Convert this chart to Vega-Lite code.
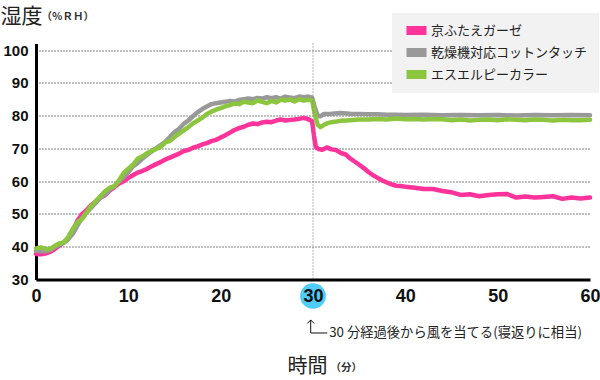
{
  "$schema": "https://vega.github.io/schema/vega-lite/v6.json",
  "width": 554,
  "height": 236,
  "autosize": {"type": "none"},
  "padding": {"left": 36, "top": 43.5, "right": 10, "bottom": 100.5},
  "background": "white",
  "config": {"view": {"stroke": null}, "font": "Liberation Sans"},
  "datasets": {
    "one": [{}],
    "hum": [
      {"t":0,"s":"京ふたえガーゼ","v":37.8},{"t":0.5,"s":"京ふたえガーゼ","v":37.7},{"t":1,"s":"京ふたえガーゼ","v":37.9},{"t":1.5,"s":"京ふたえガーゼ","v":38.4},{"t":2,"s":"京ふたえガーゼ","v":39.2},{"t":2.5,"s":"京ふたえガーゼ","v":40.3},{"t":3,"s":"京ふたえガーゼ","v":41.3},{"t":3.5,"s":"京ふたえガーゼ","v":42.5},{"t":4,"s":"京ふたえガーゼ","v":45.0},{"t":4.5,"s":"京ふたえガーゼ","v":48.0},{"t":5,"s":"京ふたえガーゼ","v":50.0},{"t":5.5,"s":"京ふたえガーゼ","v":51.2},{"t":6,"s":"京ふたえガーゼ","v":52.8},{"t":6.5,"s":"京ふたえガーゼ","v":53.8},{"t":7,"s":"京ふたえガーゼ","v":55.0},{"t":7.5,"s":"京ふたえガーゼ","v":55.8},{"t":8,"s":"京ふたえガーゼ","v":57.2},{"t":8.5,"s":"京ふたえガーゼ","v":58.2},{"t":9,"s":"京ふたえガーゼ","v":59.3},{"t":9.5,"s":"京ふたえガーゼ","v":60.0},{"t":10,"s":"京ふたえガーゼ","v":61.0},{"t":10.5,"s":"京ふたえガーゼ","v":61.8},{"t":11,"s":"京ふたえガーゼ","v":62.6},{"t":11.5,"s":"京ふたえガーゼ","v":63.1},{"t":12,"s":"京ふたえガーゼ","v":63.7},{"t":12.5,"s":"京ふたえガーゼ","v":64.5},{"t":13,"s":"京ふたえガーゼ","v":65.2},{"t":13.5,"s":"京ふたえガーゼ","v":65.8},{"t":14,"s":"京ふたえガーゼ","v":66.6},{"t":14.5,"s":"京ふたえガーゼ","v":67.2},{"t":15,"s":"京ふたえガーゼ","v":67.8},{"t":15.5,"s":"京ふたえガーゼ","v":68.4},{"t":16,"s":"京ふたえガーゼ","v":69.2},{"t":16.5,"s":"京ふたえガーゼ","v":69.5},{"t":17,"s":"京ふたえガーゼ","v":70.2},{"t":17.5,"s":"京ふたえガーゼ","v":70.6},{"t":18,"s":"京ふたえガーゼ","v":71.2},{"t":18.5,"s":"京ふたえガーゼ","v":71.6},{"t":19,"s":"京ふたえガーゼ","v":72.2},{"t":19.5,"s":"京ふたえガーゼ","v":72.6},{"t":20,"s":"京ふたえガーゼ","v":73.3},{"t":20.5,"s":"京ふたえガーゼ","v":74.0},{"t":21,"s":"京ふたえガーゼ","v":74.8},{"t":21.5,"s":"京ふたえガーゼ","v":75.6},{"t":22,"s":"京ふたえガーゼ","v":76.2},{"t":22.5,"s":"京ふたえガーゼ","v":76.6},{"t":23,"s":"京ふたえガーゼ","v":77.2},{"t":23.5,"s":"京ふたえガーゼ","v":77.6},{"t":24,"s":"京ふたえガーゼ","v":77.4},{"t":24.5,"s":"京ふたえガーゼ","v":77.9},{"t":25,"s":"京ふたえガーゼ","v":78.1},{"t":25.5,"s":"京ふたえガーゼ","v":78.0},{"t":26,"s":"京ふたえガーゼ","v":78.5},{"t":26.5,"s":"京ふたえガーゼ","v":78.8},{"t":27,"s":"京ふたえガーゼ","v":78.5},{"t":27.5,"s":"京ふたえガーゼ","v":78.7},{"t":28,"s":"京ふたえガーゼ","v":78.8},{"t":28.5,"s":"京ふたえガーゼ","v":79.0},{"t":29,"s":"京ふたえガーゼ","v":79.3},{"t":29.5,"s":"京ふたえガーゼ","v":78.9},{"t":29.9,"s":"京ふたえガーゼ","v":78.3},{"t":30.1,"s":"京ふたえガーゼ","v":74.0},{"t":30.3,"s":"京ふたえガーゼ","v":70.4},{"t":30.6,"s":"京ふたえガーゼ","v":69.8},{"t":31,"s":"京ふたえガーゼ","v":69.6},{"t":31.5,"s":"京ふたえガーゼ","v":70.3},{"t":32,"s":"京ふたえガーゼ","v":69.7},{"t":32.5,"s":"京ふたえガーゼ","v":69.5},{"t":33,"s":"京ふたえガーゼ","v":68.6},{"t":33.5,"s":"京ふたえガーゼ","v":68.2},{"t":34,"s":"京ふたえガーゼ","v":67.0},{"t":34.5,"s":"京ふたえガーゼ","v":66.0},{"t":35,"s":"京ふたえガーゼ","v":65.0},{"t":35.5,"s":"京ふたえガーゼ","v":64.0},{"t":36,"s":"京ふたえガーゼ","v":62.8},{"t":36.5,"s":"京ふたえガーゼ","v":61.8},{"t":37,"s":"京ふたえガーゼ","v":61.0},{"t":37.5,"s":"京ふたえガーゼ","v":60.2},{"t":38,"s":"京ふたえガーゼ","v":59.6},{"t":38.5,"s":"京ふたえガーゼ","v":59.0},{"t":39,"s":"京ふたえガーゼ","v":58.6},{"t":39.5,"s":"京ふたえガーゼ","v":58.5},{"t":40,"s":"京ふたえガーゼ","v":58.3},{"t":41,"s":"京ふたえガーゼ","v":58.0},{"t":42,"s":"京ふたえガーゼ","v":57.6},{"t":43,"s":"京ふたえガーゼ","v":57.6},{"t":44,"s":"京ふたえガーゼ","v":57.0},{"t":45,"s":"京ふたえガーゼ","v":56.6},{"t":46,"s":"京ふたえガーゼ","v":55.8},{"t":47,"s":"京ふたえガーゼ","v":56.0},{"t":48,"s":"京ふたえガーゼ","v":55.4},{"t":49,"s":"京ふたえガーゼ","v":55.8},{"t":50,"s":"京ふたえガーゼ","v":56.0},{"t":51,"s":"京ふたえガーゼ","v":56.1},{"t":52,"s":"京ふたえガーゼ","v":55.0},{"t":53,"s":"京ふたえガーゼ","v":55.3},{"t":54,"s":"京ふたえガーゼ","v":55.0},{"t":55,"s":"京ふたえガーゼ","v":55.2},{"t":56,"s":"京ふたえガーゼ","v":55.4},{"t":57,"s":"京ふたえガーゼ","v":54.6},{"t":58,"s":"京ふたえガーゼ","v":55.0},{"t":59,"s":"京ふたえガーゼ","v":54.7},{"t":60,"s":"京ふたえガーゼ","v":55.0},

      {"t":0,"s":"乾燥機対応コットンタッチ","v":38.8},{"t":0.5,"s":"乾燥機対応コットンタッチ","v":38.6},{"t":1,"s":"乾燥機対応コットンタッチ","v":38.6},{"t":1.5,"s":"乾燥機対応コットンタッチ","v":39.0},{"t":2,"s":"乾燥機対応コットンタッチ","v":39.8},{"t":2.5,"s":"乾燥機対応コットンタッチ","v":40.6},{"t":3,"s":"乾燥機対応コットンタッチ","v":41.2},{"t":3.5,"s":"乾燥機対応コットンタッチ","v":42.3},{"t":4,"s":"乾燥機対応コットンタッチ","v":44.0},{"t":4.5,"s":"乾燥機対応コットンタッチ","v":46.5},{"t":5,"s":"乾燥機対応コットンタッチ","v":48.8},{"t":5.5,"s":"乾燥機対応コットンタッチ","v":50.5},{"t":6,"s":"乾燥機対応コットンタッチ","v":52.0},{"t":6.5,"s":"乾燥機対応コットンタッチ","v":53.5},{"t":7,"s":"乾燥機対応コットンタッチ","v":55.0},{"t":7.5,"s":"乾燥機対応コットンタッチ","v":56.0},{"t":8,"s":"乾燥機対応コットンタッチ","v":57.5},{"t":8.5,"s":"乾燥機対応コットンタッチ","v":58.5},{"t":9,"s":"乾燥機対応コットンタッチ","v":60.0},{"t":9.5,"s":"乾燥機対応コットンタッチ","v":61.2},{"t":10,"s":"乾燥機対応コットンタッチ","v":62.8},{"t":10.5,"s":"乾燥機対応コットンタッチ","v":64.5},{"t":11,"s":"乾燥機対応コットンタッチ","v":65.5},{"t":11.5,"s":"乾燥機対応コットンタッチ","v":66.8},{"t":12,"s":"乾燥機対応コットンタッチ","v":68.0},{"t":12.5,"s":"乾燥機対応コットンタッチ","v":69.0},{"t":13,"s":"乾燥機対応コットンタッチ","v":70.0},{"t":13.5,"s":"乾燥機対応コットンタッチ","v":71.0},{"t":14,"s":"乾燥機対応コットンタッチ","v":72.0},{"t":14.5,"s":"乾燥機対応コットンタッチ","v":73.5},{"t":15,"s":"乾燥機対応コットンタッチ","v":75.0},{"t":15.5,"s":"乾燥機対応コットンタッチ","v":76.0},{"t":16,"s":"乾燥機対応コットンタッチ","v":77.5},{"t":16.5,"s":"乾燥機対応コットンタッチ","v":78.5},{"t":17,"s":"乾燥機対応コットンタッチ","v":79.8},{"t":17.5,"s":"乾燥機対応コットンタッチ","v":81.0},{"t":18,"s":"乾燥機対応コットンタッチ","v":82.0},{"t":18.5,"s":"乾燥機対応コットンタッチ","v":82.8},{"t":19,"s":"乾燥機対応コットンタッチ","v":83.5},{"t":19.5,"s":"乾燥機対応コットンタッチ","v":83.8},{"t":20,"s":"乾燥機対応コットンタッチ","v":84.0},{"t":20.5,"s":"乾燥機対応コットンタッチ","v":84.2},{"t":21,"s":"乾燥機対応コットンタッチ","v":84.5},{"t":21.5,"s":"乾燥機対応コットンタッチ","v":84.3},{"t":22,"s":"乾燥機対応コットンタッチ","v":84.8},{"t":22.5,"s":"乾燥機対応コットンタッチ","v":85.0},{"t":23,"s":"乾燥機対応コットンタッチ","v":85.2},{"t":23.5,"s":"乾燥機対応コットンタッチ","v":85.0},{"t":24,"s":"乾燥機対応コットンタッチ","v":85.4},{"t":24.5,"s":"乾燥機対応コットンタッチ","v":85.2},{"t":25,"s":"乾燥機対応コットンタッチ","v":85.6},{"t":25.5,"s":"乾燥機対応コットンタッチ","v":85.3},{"t":26,"s":"乾燥機対応コットンタッチ","v":85.6},{"t":26.5,"s":"乾燥機対応コットンタッチ","v":85.2},{"t":27,"s":"乾燥機対応コットンタッチ","v":85.8},{"t":27.5,"s":"乾燥機対応コットンタッチ","v":85.5},{"t":28,"s":"乾燥機対応コットンタッチ","v":85.3},{"t":28.5,"s":"乾燥機対応コットンタッチ","v":85.8},{"t":29,"s":"乾燥機対応コットンタッチ","v":85.6},{"t":29.5,"s":"乾燥機対応コットンタッチ","v":85.8},{"t":29.9,"s":"乾燥機対応コットンタッチ","v":85.5},{"t":30.2,"s":"乾燥機対応コットンタッチ","v":82.5},{"t":30.5,"s":"乾燥機対応コットンタッチ","v":80.0},{"t":30.8,"s":"乾燥機対応コットンタッチ","v":79.8},{"t":31.2,"s":"乾燥機対応コットンタッチ","v":80.5},{"t":32,"s":"乾燥機対応コットンタッチ","v":80.6},{"t":33,"s":"乾燥機対応コットンタッチ","v":80.8},{"t":34,"s":"乾燥機対応コットンタッチ","v":80.6},{"t":35,"s":"乾燥機対応コットンタッチ","v":80.5},{"t":36,"s":"乾燥機対応コットンタッチ","v":80.4},{"t":37,"s":"乾燥機対応コットンタッチ","v":80.4},{"t":38,"s":"乾燥機対応コットンタッチ","v":80.3},{"t":39,"s":"乾燥機対応コットンタッチ","v":80.3},{"t":40,"s":"乾燥機対応コットンタッチ","v":80.2},{"t":42,"s":"乾燥機対応コットンタッチ","v":80.3},{"t":44,"s":"乾燥機対応コットンタッチ","v":80.1},{"t":46,"s":"乾燥機対応コットンタッチ","v":80.2},{"t":48,"s":"乾燥機対応コットンタッチ","v":80.1},{"t":50,"s":"乾燥機対応コットンタッチ","v":80.2},{"t":52,"s":"乾燥機対応コットンタッチ","v":80.0},{"t":54,"s":"乾燥機対応コットンタッチ","v":80.2},{"t":56,"s":"乾燥機対応コットンタッチ","v":80.1},{"t":58,"s":"乾燥機対応コットンタッチ","v":80.2},{"t":60,"s":"乾燥機対応コットンタッチ","v":80.1},

      {"t":0,"s":"エスエルピーカラー","v":39.5},{"t":0.5,"s":"エスエルピーカラー","v":39.8},{"t":1,"s":"エスエルピーカラー","v":39.4},{"t":1.5,"s":"エスエルピーカラー","v":39.2},{"t":2,"s":"エスエルピーカラー","v":40.2},{"t":2.5,"s":"エスエルピーカラー","v":41.0},{"t":3,"s":"エスエルピーカラー","v":41.3},{"t":3.5,"s":"エスエルピーカラー","v":43.0},{"t":4,"s":"エスエルピーカラー","v":45.5},{"t":4.5,"s":"エスエルピーカラー","v":47.5},{"t":5,"s":"エスエルピーカラー","v":48.5},{"t":5.5,"s":"エスエルピーカラー","v":50.5},{"t":6,"s":"エスエルピーカラー","v":52.5},{"t":6.5,"s":"エスエルピーカラー","v":54.0},{"t":7,"s":"エスエルピーカラー","v":55.5},{"t":7.5,"s":"エスエルピーカラー","v":57.0},{"t":8,"s":"エスエルピーカラー","v":58.0},{"t":8.5,"s":"エスエルピーカラー","v":58.5},{"t":9,"s":"エスエルピーカラー","v":60.3},{"t":9.5,"s":"エスエルピーカラー","v":62.5},{"t":10,"s":"エスエルピーカラー","v":63.8},{"t":10.5,"s":"エスエルピーカラー","v":65.0},{"t":11,"s":"エスエルピーカラー","v":66.8},{"t":11.5,"s":"エスエルピーカラー","v":67.5},{"t":12,"s":"エスエルピーカラー","v":68.5},{"t":12.5,"s":"エスエルピーカラー","v":69.2},{"t":13,"s":"エスエルピーカラー","v":69.8},{"t":13.5,"s":"エスエルピーカラー","v":70.5},{"t":14,"s":"エスエルピーカラー","v":71.8},{"t":14.5,"s":"エスエルピーカラー","v":72.3},{"t":15,"s":"エスエルピーカラー","v":73.5},{"t":15.5,"s":"エスエルピーカラー","v":74.5},{"t":16,"s":"エスエルピーカラー","v":75.5},{"t":16.5,"s":"エスエルピーカラー","v":76.5},{"t":17,"s":"エスエルピーカラー","v":77.6},{"t":17.5,"s":"エスエルピーカラー","v":78.5},{"t":18,"s":"エスエルピーカラー","v":79.3},{"t":18.5,"s":"エスエルピーカラー","v":80.5},{"t":19,"s":"エスエルピーカラー","v":81.2},{"t":19.5,"s":"エスエルピーカラー","v":81.8},{"t":20,"s":"エスエルピーカラー","v":82.3},{"t":20.5,"s":"エスエルピーカラー","v":82.8},{"t":21,"s":"エスエルピーカラー","v":83.2},{"t":21.5,"s":"エスエルピーカラー","v":83.7},{"t":22,"s":"エスエルピーカラー","v":83.5},{"t":22.5,"s":"エスエルピーカラー","v":84.2},{"t":23,"s":"エスエルピーカラー","v":84.0},{"t":23.5,"s":"エスエルピーカラー","v":83.8},{"t":24,"s":"エスエルピーカラー","v":84.6},{"t":24.5,"s":"エスエルピーカラー","v":84.2},{"t":25,"s":"エスエルピーカラー","v":83.8},{"t":25.5,"s":"エスエルピーカラー","v":84.5},{"t":26,"s":"エスエルピーカラー","v":84.0},{"t":26.5,"s":"エスエルピーカラー","v":84.8},{"t":27,"s":"エスエルピーカラー","v":84.6},{"t":27.5,"s":"エスエルピーカラー","v":84.9},{"t":28,"s":"エスエルピーカラー","v":84.3},{"t":28.5,"s":"エスエルピーカラー","v":85.0},{"t":29,"s":"エスエルピーカラー","v":84.6},{"t":29.5,"s":"エスエルピーカラー","v":84.8},{"t":29.9,"s":"エスエルピーカラー","v":84.6},{"t":30.2,"s":"エスエルピーカラー","v":80.5},{"t":30.5,"s":"エスエルピーカラー","v":77.2},{"t":30.8,"s":"エスエルピーカラー","v":76.5},{"t":31.2,"s":"エスエルピーカラー","v":77.2},{"t":31.6,"s":"エスエルピーカラー","v":77.7},{"t":32,"s":"エスエルピーカラー","v":78.0},{"t":33,"s":"エスエルピーカラー","v":78.4},{"t":34,"s":"エスエルピーカラー","v":78.6},{"t":35,"s":"エスエルピーカラー","v":78.8},{"t":36,"s":"エスエルピーカラー","v":78.8},{"t":37,"s":"エスエルピーカラー","v":79.0},{"t":38,"s":"エスエルピーカラー","v":78.8},{"t":39,"s":"エスエルピーカラー","v":79.1},{"t":40,"s":"エスエルピーカラー","v":78.9},{"t":41,"s":"エスエルピーカラー","v":79.0},{"t":42,"s":"エスエルピーカラー","v":78.8},{"t":43,"s":"エスエルピーカラー","v":79.0},{"t":44,"s":"エスエルピーカラー","v":78.9},{"t":45,"s":"エスエルピーカラー","v":78.6},{"t":46,"s":"エスエルピーカラー","v":78.8},{"t":47,"s":"エスエルピーカラー","v":78.5},{"t":48,"s":"エスエルピーカラー","v":78.7},{"t":49,"s":"エスエルピーカラー","v":78.8},{"t":50,"s":"エスエルピーカラー","v":78.6},{"t":51,"s":"エスエルピーカラー","v":78.9},{"t":52,"s":"エスエルピーカラー","v":78.7},{"t":53,"s":"エスエルピーカラー","v":78.6},{"t":54,"s":"エスエルピーカラー","v":78.8},{"t":55,"s":"エスエルピーカラー","v":78.7},{"t":56,"s":"エスエルピーカラー","v":78.5},{"t":57,"s":"エスエルピーカラー","v":78.7},{"t":58,"s":"エスエルピーカラー","v":78.6},{"t":59,"s":"エスエルピーカラー","v":78.6},{"t":60,"s":"エスエルピーカラー","v":78.7}
    ]
  },
  "layer": [
    {
      "data": {"name": "hum"},
      "mark": {"type": "line", "strokeWidth": 4.5, "strokeCap": "round", "strokeJoin": "round"},
      "encoding": {
        "x": {
          "field": "t", "type": "quantitative",
          "scale": {"domain": [0, 60], "nice": false, "zero": false},
          "axis": {
            "values": [0, 10, 20, 30, 40, 50, 60], "tickCount": 7, "grid": false, "ticks": false,
            "domainColor": "#000000", "domainWidth": 3,
            "labelFont": "Liberation Sans", "labelFontWeight": "bold", "labelFontSize": 18, "labelColor": "#111111",
            "labelPadding": 8, "labelFlush": false, "labelBaseline": "top", "labelOverlap": false, "zindex": 1,
            "title": "時間", "titleFont": "Noto Sans CJK JP", "titleFontSize": 20, "titleFontWeight": "normal", "titleColor": "#222222",
            "titleAngle": 0, "titleAlign": "left", "titleBaseline": "middle", "titleX": 251, "titleY": 87
          }
        },
        "y": {
          "field": "v", "type": "quantitative",
          "scale": {"domain": [30, 102], "nice": false, "zero": false},
          "axis": {
            "values": [30, 40, 50, 60, 70, 80, 90, 100], "tickCount": 8, "grid": true, "gridColor": "#000000", "gridDash": [1, 2], "gridWidth": 1,
            "ticks": false, "domainColor": "#000000", "domainWidth": 3,
            "labelFont": "Liberation Sans", "labelFontWeight": "bold", "labelFontSize": 15, "labelColor": "#111111",
            "labelPadding": 8, "labelOverlap": false,
            "title": "湿度", "titleFont": "Noto Sans CJK JP", "titleFontSize": 21, "titleFontWeight": "normal", "titleColor": "#222222",
            "titleAngle": 0, "titleAlign": "left", "titleBaseline": "middle", "titleX": -36, "titleY": -27.5, "zindex": 0
          }
        },
        "color": {
          "field": "s", "type": "nominal",
          "scale": {"domain": ["京ふたえガーゼ", "乾燥機対応コットンタッチ", "エスエルピーカラー"], "range": ["#ff3399", "#999999", "#8cc63f"]},
          "legend": {
            "orient": "none", "legendX": 356, "legendY": -30.5, "title": null,
            "fillColor": "#f2f2f2", "padding": 11,
            "symbolType": "M-2,-0.9L2,-0.9L2,0.9L-2,0.9Z", "symbolSize": 100, "symbolStrokeWidth": 0, "symbolOffset": 7,
            "labelFont": "Noto Sans CJK JP", "labelFontSize": 13, "labelColor": "#222222", "labelOffset": 8,
            "rowPadding": 8,
            "encode": {"symbols": {"update": {"fill": {"scale": "color", "field": "value"}, "fillOpacity": {"value": 1}, "stroke": {"value": "transparent"}, "strokeWidth": {"value": 0}}}}
          }
        }
      }
    },
    {
      "data": {"name": "one"},
      "mark": {"type": "rule", "color": "#777777", "strokeDash": [1, 2], "strokeWidth": 1},
      "encoding": {"x": {"datum": 30, "type": "quantitative"}}
    },
    {
      "data": {"name": "one"},
      "mark": {"type": "point", "shape": "circle", "filled": true, "size": 660, "color": "#4fcdf7", "opacity": 1},
      "encoding": {"x": {"datum": 30, "type": "quantitative"}, "y": {"datum": 24.97, "type": "quantitative"}}
    },
    {
      "data": {"name": "one"},
      "mark": {"type": "rule", "color": "#111111", "strokeWidth": 1},
      "encoding": {"x": {"datum": 29.75, "type": "quantitative"}, "y": {"datum": 17.65, "type": "quantitative"}, "y2": {"datum": 13.68}}
    },
    {
      "data": {"name": "one"},
      "mark": {"type": "rule", "color": "#111111", "strokeWidth": 1},
      "encoding": {"x": {"datum": 29.75, "type": "quantitative"}, "x2": {"datum": 31.55}, "y": {"datum": 13.68, "type": "quantitative"}}
    },
    {
      "data": {"name": "one"},
      "mark": {"type": "point", "shape": "M-1,1L0,0L1,1", "filled": false, "size": 49, "stroke": "#111111", "strokeWidth": 1, "opacity": 1},
      "encoding": {"x": {"datum": 29.75, "type": "quantitative"}, "y": {"datum": 17.65, "type": "quantitative"}}
    },
    {
      "data": {"name": "one"},
      "mark": {"type": "text", "align": "left", "baseline": "middle", "font": "Noto Sans CJK JP", "fontSize": 13.3, "color": "#222222"},
      "encoding": {"x": {"datum": 31.75, "type": "quantitative"}, "y": {"datum": 13.68, "type": "quantitative"}, "text": {"value": "30 分経過後から風を当てる(寝返りに相当)"}}
    },
    {
      "data": {"name": "one"},
      "mark": {"type": "text", "align": "left", "baseline": "middle", "font": "Noto Sans CJK JP", "fontSize": 10.5, "fontWeight": "bold", "color": "#333333"},
      "encoding": {"x": {"datum": 0.6, "type": "quantitative"}, "y": {"datum": 110.0, "type": "quantitative"}, "text": {"value": "（％ＲＨ）"}}
    },
    {
      "data": {"name": "one"},
      "mark": {"type": "text", "align": "left", "baseline": "middle", "font": "Noto Sans CJK JP", "fontSize": 10.5, "fontWeight": "bold", "color": "#333333"},
      "encoding": {"x": {"datum": 31.9, "type": "quantitative"}, "y": {"datum": 3.0, "type": "quantitative"}, "text": {"value": "（分）"}}
    }
  ]
}
